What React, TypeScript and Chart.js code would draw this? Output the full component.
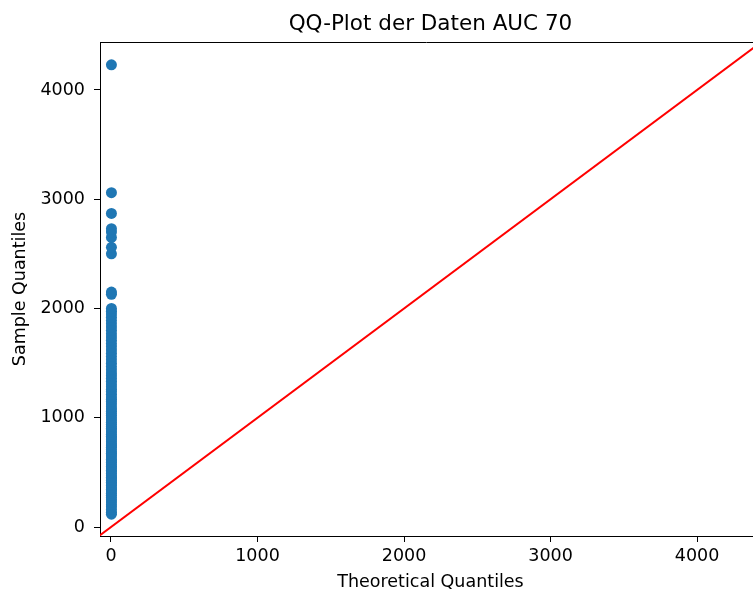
import React, { useEffect, useRef } from "react";
import { Chart, registerables } from "chart.js";

Chart.register(...registerables);

const TITLE = "QQ-Plot der Daten AUC 70";
const X_LABEL = "Theoretical Quantiles";
const Y_LABEL = "Sample Quantiles";

// Sample quantiles (sorted data values)
const sampleQuantiles: number[] = [
  118, 135, 160, 185, 205, 230, 250, 270, 290, 310, 330, 345, 360, 380, 395,
  410, 425, 440, 455, 470, 490, 505, 520, 540, 555, 570, 590, 605, 620, 640,
  660, 675, 690, 710, 730, 745, 760, 780, 800, 815, 830, 850, 870, 890, 905,
  920, 940, 960, 980, 1000, 1020, 1040, 1060, 1080, 1100, 1125, 1150, 1170,
  1190, 1215, 1240, 1260, 1285, 1310, 1335, 1360, 1385, 1410, 1440, 1470,
  1500, 1530, 1560, 1590, 1620, 1650, 1680, 1710, 1740, 1770, 1800, 1830,
  1860, 1890, 1920, 1950, 1975, 2000, 2130, 2150, 2500, 2560, 2650, 2700,
  2730, 2870, 3060, 4230,
];
// Theoretical quantiles are all within a few units of 0 on this scale
const theoreticalQuantile = 3;

const X_RANGE = [-75, 4382];
const Y_RANGE = [-82, 4439];
const REF_LINE = [-100, 4500]; // 45-degree line y = x endpoints
const X_TICKS = [0, 1000, 2000, 3000, 4000];
const Y_TICKS = [0, 1000, 2000, 3000, 4000];

const frameTitlePlugin = {
  id: "frameTitle",
  afterDraw(chart: any) {
    const { ctx, chartArea } = chart;
    ctx.save();
    ctx.strokeStyle = "#000";
    ctx.lineWidth = 1;
    ctx.beginPath();
    ctx.moveTo(chartArea.left, chartArea.top + 0.5);
    ctx.lineTo(chartArea.right, chartArea.top + 0.5);
    ctx.stroke();
    ctx.fillStyle = "#000";
    ctx.textAlign = "center";
    ctx.textBaseline = "alphabetic";
    // matplotlib's axes extend slightly beyond the cropped right edge
    const cx = chartArea.left + (chartArea.right - chartArea.left) / 2 + 4;
    ctx.font = "21.5px 'DejaVu Sans'";
    ctx.fillText(TITLE, cx, 30);
    ctx.font = "17.5px 'DejaVu Sans'";
    ctx.fillText(X_LABEL, cx, 587);
    ctx.restore();
  },
};

export default function App() {
  const ref = useRef<HTMLCanvasElement | null>(null);
  useEffect(() => {
    if (!ref.current) return;
    const tickFont = { family: "'DejaVu Sans'", size: 17.5 };
    const chart = new Chart(ref.current, {
      type: "scatter",
      data: {
        datasets: [
          {
            label: "data",
            data: sampleQuantiles.map((v) => ({ x: theoreticalQuantile, y: v })),
            backgroundColor: "#1f77b4",
            borderColor: "#1f77b4",
            borderWidth: 0,
            pointRadius: 5.5,
            clip: 0,
          } as any,
          {
            type: "line",
            label: "45",
            data: REF_LINE.map((v) => ({ x: v, y: v })),
            borderColor: "red",
            borderWidth: 2,
            pointRadius: 0,
            fill: false,
            clip: 0,
          } as any,
        ],
      },
      options: {
        animation: false,
        responsive: false,
        maintainAspectRatio: false,
        layout: { autoPadding: false, padding: { top: 42, left: 0, right: 0, bottom: 0 } },
        plugins: {
          legend: { display: false },
          tooltip: { enabled: false },
          title: { display: false },
        },
        scales: {
          x: {
            type: "linear",
            min: X_RANGE[0],
            max: X_RANGE[1],
            afterBuildTicks: (s: any) => {
              s.ticks = X_TICKS.map((v) => ({ value: v }));
            },
            afterFit: (s: any) => {
              s.height = 56;
              s.paddingRight = 0;
              s.paddingLeft = 0;
            },
            grid: {
              drawOnChartArea: false,
              drawTicks: true,
              tickLength: 6,
              color: "#000",
            },
            border: { color: "#000", width: 1 },
            ticks: {
              autoSkip: false,
              color: "#000",
              font: tickFont,
              padding: 4,
              maxRotation: 0,
              callback: (v: any) => String(v),
            },
            title: { display: false },
          },
          y: {
            type: "linear",
            min: Y_RANGE[0],
            max: Y_RANGE[1],
            afterBuildTicks: (s: any) => {
              s.ticks = Y_TICKS.map((v) => ({ value: v }));
            },
            afterFit: (s: any) => {
              s.width = 100;
              s.paddingTop = 0;
              s.paddingBottom = 0;
            },
            grid: {
              drawOnChartArea: false,
              drawTicks: true,
              tickLength: 6,
              color: "#000",
            },
            border: { color: "#000", width: 1 },
            ticks: {
              autoSkip: false,
              color: "#000",
              font: tickFont,
              padding: 9,
              callback: (v: any) => String(v),
            },
            title: {
              display: true,
              text: Y_LABEL,
              color: "#000",
              font: tickFont,
              padding: { top: 10, bottom: 0 },
            },
          },
        },
      },
      plugins: [frameTitlePlugin],
    } as any);
    return () => chart.destroy();
  }, []);
  return (
    <div style={{ position: "fixed", left: 0, top: 0, width: 753, height: 592, background: "#fff" }}>
      <canvas ref={ref} width={753} height={592} style={{ width: 753, height: 592, display: "block" }} />
    </div>
  );
}
